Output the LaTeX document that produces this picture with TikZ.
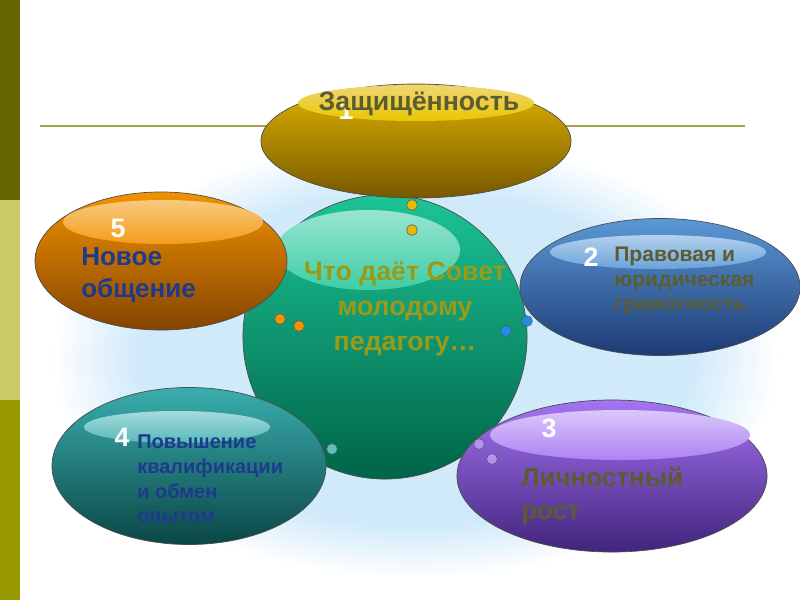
\documentclass[tikz,border=0pt]{standalone}
\usepackage{fontspec}
\setmainfont{Liberation Sans}
\usepackage{xcolor}
\usetikzlibrary{shapes.geometric,positioning}

\definecolor{barDark}{HTML}{666600}
\definecolor{barLight}{HTML}{CCCC66}
\definecolor{barOlive}{HTML}{999900}
\definecolor{ruleOlive}{HTML}{A3A345}
\definecolor{skyBlue}{HTML}{D0EAFA}
\definecolor{goldTop}{HTML}{E2B400}
\definecolor{goldBot}{HTML}{765800}
\definecolor{orangeTop}{HTML}{F29200}
\definecolor{orangeBot}{HTML}{844400}
\definecolor{blueTop}{HTML}{5A98D6}
\definecolor{blueBot}{HTML}{1D3A74}
\definecolor{tealTop}{HTML}{3AADAD}
\definecolor{tealBot}{HTML}{0B4646}
\definecolor{violetTop}{HTML}{A474F2}
\definecolor{violetBot}{HTML}{42247C}
\definecolor{greenTop}{HTML}{1CC496}
\definecolor{greenBot}{HTML}{006448}
\definecolor{textOlive}{HTML}{5C5C32}
\definecolor{textCentre}{HTML}{9A9A18}
\definecolor{textNavy}{HTML}{1E3A8E}
\definecolor{beadBlue}{HTML}{1E8EEA}

\pgfdeclareradialshading{halo}{\pgfpoint{0bp}{0bp}}{color(0bp)=(skyBlue); color(19bp)=(skyBlue); color(25bp)=(white); color(50bp)=(white)}

\begin{document}
\begin{tikzpicture}[
  x=0.025cm, y=-0.025cm,
  bubble/.style={ellipse, draw=black!70, line width=0.5pt, inner sep=0pt},
  gloss/.style={ellipse, draw=none, inner sep=0pt},
  bead/.style={circle, draw=black!65, line width=0.4pt, inner sep=0pt, minimum size=0.27cm},
  num/.style={inner sep=0pt, text=white, font=\fontsize{19}{19}\selectfont\bfseries},
  bigtext/.style={inner sep=0pt, align=left, font=\fontsize{18.5}{23}\selectfont\bfseries},
  smalltext/.style={inner sep=0pt, align=left, font=\fontsize{15}{17.6}\selectfont\bfseries}
]
\useasboundingbox (0,0) rectangle (800,600);

% backdrop
\shade[shading=halo] (415,358) ellipse [x radius=9.1cm, y radius=5.5cm];
\fill[barDark] (0,0) rectangle (20,200);
\fill[barLight] (0,200) rectangle (20,400);
\fill[barOlive] (0,400) rectangle (20,600);
\coordinate (ruleL) at (40,126);
\coordinate (ruleR) at (745,126);
\draw[ruleOlive, line width=0.85pt] (ruleL) -- (ruleR);

% centre
\node[circle, draw=black!70, line width=0.5pt, minimum size=7.1cm, top color=greenTop, bottom color=greenBot] (core) at (385,337) {};
\node[gloss, minimum width=4.6cm, minimum height=2.0cm, top color=white!55!greenTop, bottom color=greenTop!85!white] (core-gl) at (368,250) {};
\node[inner sep=0pt, align=center, text=textCentre, font=\fontsize{19}{24.6}\selectfont\bfseries] (core-txt) at (405,309) {Что даёт Совет\\молодому\\педагогу…};

% 1
\node[bubble, minimum width=7.75cm, minimum height=2.85cm, top color=goldTop, bottom color=goldBot] (safe) at (416,141) {};
\node[gloss, minimum width=5.9cm, minimum height=0.9cm, top color=white!45!goldTop, bottom color=goldTop!75!yellow] (safe-gl) at (416,103) {};
\node[num] (safe-num) at (346,110) {1};
\node[inner sep=0pt, text=textOlive, font=\fontsize{19}{19}\selectfont\bfseries] (safe-txt) at (419,104) {Защищённость};

% 5
\node[bubble, minimum width=6.3cm, minimum height=3.45cm, top color=orangeTop, bottom color=orangeBot] (talk) at (161,261) {};
\node[gloss, minimum width=5.0cm, minimum height=1.1cm, top color=white!50!orangeTop, bottom color=orangeTop!90!white] (talk-gl) at (163,222) {};
\node[num] (talk-num) at (118,228) {5};
\node[bigtext, text=textNavy, anchor=west] (talk-txt) at (81,275) {Новое\\общение};

% 2
\node[bubble, minimum width=7.0cm, minimum height=3.425cm, top color=blueTop, bottom color=blueBot] (law) at (660,287) {};
\node[gloss, minimum width=5.4cm, minimum height=0.85cm, top color=white!55!blueTop, bottom color=blueTop!90!white] (law-gl) at (658,252) {};
\node[num] (law-num) at (591,257) {2};
\node[smalltext, text=textOlive, anchor=west] (law-txt) at (614,281) {Правовая и\\юридическая\\грамотность};

% 4
\node[bubble, minimum width=6.85cm, minimum height=3.925cm, top color=tealTop, bottom color=tealBot] (skill) at (189,466) {};
\node[gloss, minimum width=4.65cm, minimum height=0.8cm, top color=white!55!tealTop, bottom color=tealTop!85!white] (skill-gl) at (177,427) {};
\node[num] (skill-num) at (122,437) {4};
\node[smalltext, text=textNavy, anchor=west, font=\fontsize{14.2}{17.6}\selectfont\bfseries] (skill-txt) at (137,479) {Повышение\\квалификации\\и обмен\\опытом};

% 3
\node[bubble, minimum width=7.75cm, minimum height=3.8cm, top color=violetTop, bottom color=violetBot] (grow) at (612,476) {};
\node[gloss, minimum width=6.5cm, minimum height=1.25cm, top color=white!60!violetTop, bottom color=violetTop!90!white] (grow-gl) at (620,435) {};
\node[num] (grow-num) at (549,428) {3};
\node[bigtext, text=textOlive, anchor=west] (grow-txt) at (521,496) {Личностный\\рост};

% beads
\node[bead, fill=goldTop!90!yellow] (b1) at (412,205) {};
\node[bead, fill=goldTop!90!yellow] (b2) at (412,230) {};
\node[bead, fill=orangeTop] (b3) at (280,319) {};
\node[bead, fill=orangeTop] (b4) at (299,326) {};
\node[bead, fill=beadBlue] (b5) at (506,331) {};
\node[bead, fill=beadBlue] (b6) at (527,321) {};
\node[bead, fill=tealTop!80!white] (b7) at (332,449) {};
\node[bead, fill=violetTop!80!white] (b8) at (479,444) {};
\node[bead, fill=violetTop!80!white] (b9) at (492,459) {};
\end{tikzpicture}
\end{document}
